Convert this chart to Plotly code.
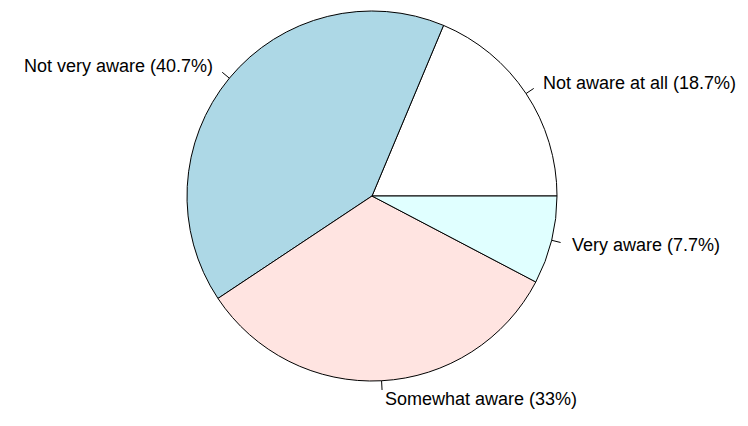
import math
import plotly.graph_objects as go

categories = ["Not aware at all", "Not very aware", "Somewhat aware", "Very aware"]
values = [18.7, 40.7, 33, 7.7]
value_labels = ["18.7%", "40.7%", "33%", "7.7%"]
colors = ["#FFFFFF", "#ADD8E6", "#FFE4E1", "#E0FFFF"]

W, H = 748, 426
cx, cy, R = 364, 188, 185  # pixel center/radius within the figure

total = sum(values)
rot = 90 - 360 * values[0] / total

fig = go.Figure(go.Pie(
    labels=categories, values=values, sort=False, direction="counterclockwise",
    rotation=rot, textinfo="none", hoverinfo="label+percent",
    marker=dict(colors=colors, line=dict(color="black", width=1)),
    domain=dict(x=[(cx - R) / W, (cx + R) / W], y=[(H - cy - R) / H, (H - cy + R) / H]),
    showlegend=False,
))

cum = 0
shapes, annotations = [], []
for cat, v, lab in zip(categories, values, value_labels):
    mid = 2 * math.pi * (cum + v / 2) / total
    cum += v
    c, s = math.cos(mid), math.sin(mid)
    x0, y0 = cx + R * c, cy - R * s
    x1, y1 = cx + 1.05 * R * c, cy - 1.05 * R * s
    xt, yt = cx + 1.1 * R * c, cy - 1.1 * R * s
    shapes.append(dict(type="line", xref="paper", yref="paper",
                       x0=x0 / W, y0=1 - y0 / H, x1=x1 / W, y1=1 - y1 / H,
                       line=dict(color="black", width=1)))
    annotations.append(dict(xref="paper", yref="paper", x=xt / W, y=1 - yt / H,
                            text=f"{cat} ({lab})", showarrow=False,
                            xanchor="left" if c > 0 else "right", yanchor="middle",
                            font=dict(family="Liberation Sans, Arial", size=18, color="black")))

fig.update_layout(width=W, height=H, margin=dict(l=0, r=0, t=0, b=0),
                  paper_bgcolor="white", plot_bgcolor="white",
                  shapes=shapes, annotations=annotations)
fig.write_html("out.html")
